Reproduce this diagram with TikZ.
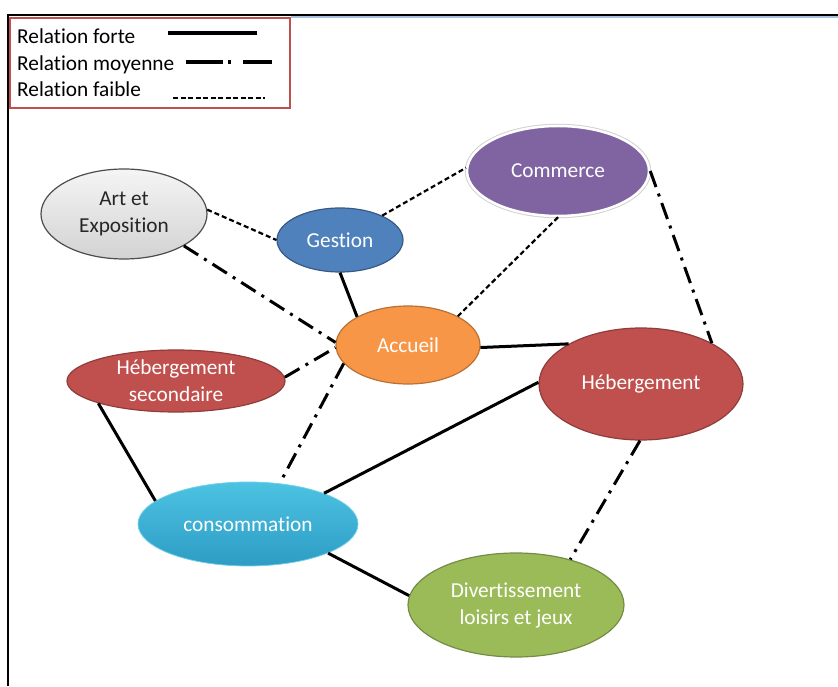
\documentclass[tikz,border=0pt]{standalone}
\usepackage{fontspec}
\setmainfont{Carlito}[Ligatures={NoCommon}]
\usetikzlibrary{shapes.geometric}

\definecolor{legrouge}{HTML}{C0504D}
\definecolor{bleugest}{HTML}{4F81BD}
\definecolor{violet}{HTML}{8064A2}
\definecolor{orange}{HTML}{F79646}
\definecolor{rouge}{HTML}{C0504D}
\definecolor{vert}{HTML}{9BBB59}
\definecolor{cyanhaut}{HTML}{4CC3E3}
\definecolor{cyanbas}{HTML}{2E9CC4}

\tikzset{
  bulle/.style={ellipse, draw, inner sep=0pt, align=center, text=white, line width=1.2pt,
    font=\fontsize{21.3}{27}\selectfont},
  legende/.style={anchor=base west, inner sep=0pt, font=\fontsize{21.3}{27}\selectfont},
  forte/.style={line width=3pt},
  moyenne/.style={line width=3pt, dash pattern=on 17pt off 7pt on 3pt off 7pt},
  faible/.style={line width=2.2pt, dash pattern=on 5pt off 3pt},
}

\begin{document}
\begin{tikzpicture}[x=1pt,y=1pt]
\useasboundingbox (0,0) rectangle (838,686);
% cadre
\draw[line width=2pt] (8,0) -- (8,671) -- (838,671);
\draw[line width=1.2pt, color=bleugest!50] (291,669) -- (838,669);

% legende
\draw[legrouge, line width=1.5pt] (10,578) rectangle (290,668);
\node[legende] (lforte) at (17,642) {Relation forte};
\node[legende] (lmoy) at (17,615) {Relation moyenne};
\node[legende] (lfaible) at (17,589) {Relation faible};
\coordinate (fa) at (168,653);
\coordinate (fb) at (257,653);
\coordinate (ma) at (186,624);
\coordinate (mb) at (272,624);
\coordinate (ba) at (173,588);
\coordinate (bb) at (265,588);
\draw[forte, line width=3.6pt] (fa) -- (fb);
\draw[line width=3.6pt, dash pattern=on 37pt off 5pt on 3pt off 12pt on 30pt] (ma) -- (mb);
\draw[faible, line width=2.4pt, dash pattern=on 5pt off 2.5pt] (ba) -- (bb);

% bulles
\node[bulle, text=black!85, draw=gray!60!black, top color=gray!8, bottom color=gray!35,
  minimum width=166, minimum height=90] (art) at (124,472) {Art et\\Exposition};
\node[bulle, fill=bleugest, draw=bleugest!70!black, minimum width=126, minimum height=64] (gest) at (340,446) {Gestion};
\node[bulle, fill=violet, draw=white, line width=2.5pt, preaction={draw=gray!35, line width=4.5pt},
  minimum width=182, minimum height=90] (comm) at (558,515) {Commerce};
\node[bulle, fill=orange, draw=orange!75!black, minimum width=144, minimum height=78] (acc) at (408,341) {Accueil};
\node[bulle, fill=rouge, draw=rouge!75!black, minimum width=218, minimum height=62] (hebs) at (176,305) {H\'ebergement\\secondaire};
\node[bulle, fill=rouge, draw=rouge!75!black, minimum width=204, minimum height=112] (heb) at (641,302) {H\'ebergement};
\node[bulle, top color=cyanhaut, bottom color=cyanbas, draw=cyanhaut!80!white, line width=0.8pt,
  minimum width=220, minimum height=84] (conso) at (248,162) {consommation};
\node[bulle, fill=vert, draw=vert!75!black, minimum width=216, minimum height=104] (div) at (516,81) {Divertissement\\loisirs et jeux};

% relations faibles
\draw[faible] (art.3) -- (gest.180);
\draw[faible] (gest.30) -- (comm.178);
\draw[faible] (comm.270) -- (acc.30);
% relations moyennes
\draw[moyenne] (art.332) -- (acc.178);
\draw[moyenne] (hebs.2) -- (acc.182);
\draw[moyenne] (acc.196) -- (conso.52);
\draw[moyenne] (comm.0) -- (heb.30);
\draw[moyenne] (heb.269) -- (div.40);
% relations fortes
\draw[forte] (gest.270) -- (acc.151);
\draw[forte] (acc.358) -- (heb.151);
\draw[forte] (heb.179) -- (conso.22);
\draw[forte] (hebs.196) -- (conso.166);
\draw[forte] (conso.340) -- (div.175);
\end{tikzpicture}
\end{document}
